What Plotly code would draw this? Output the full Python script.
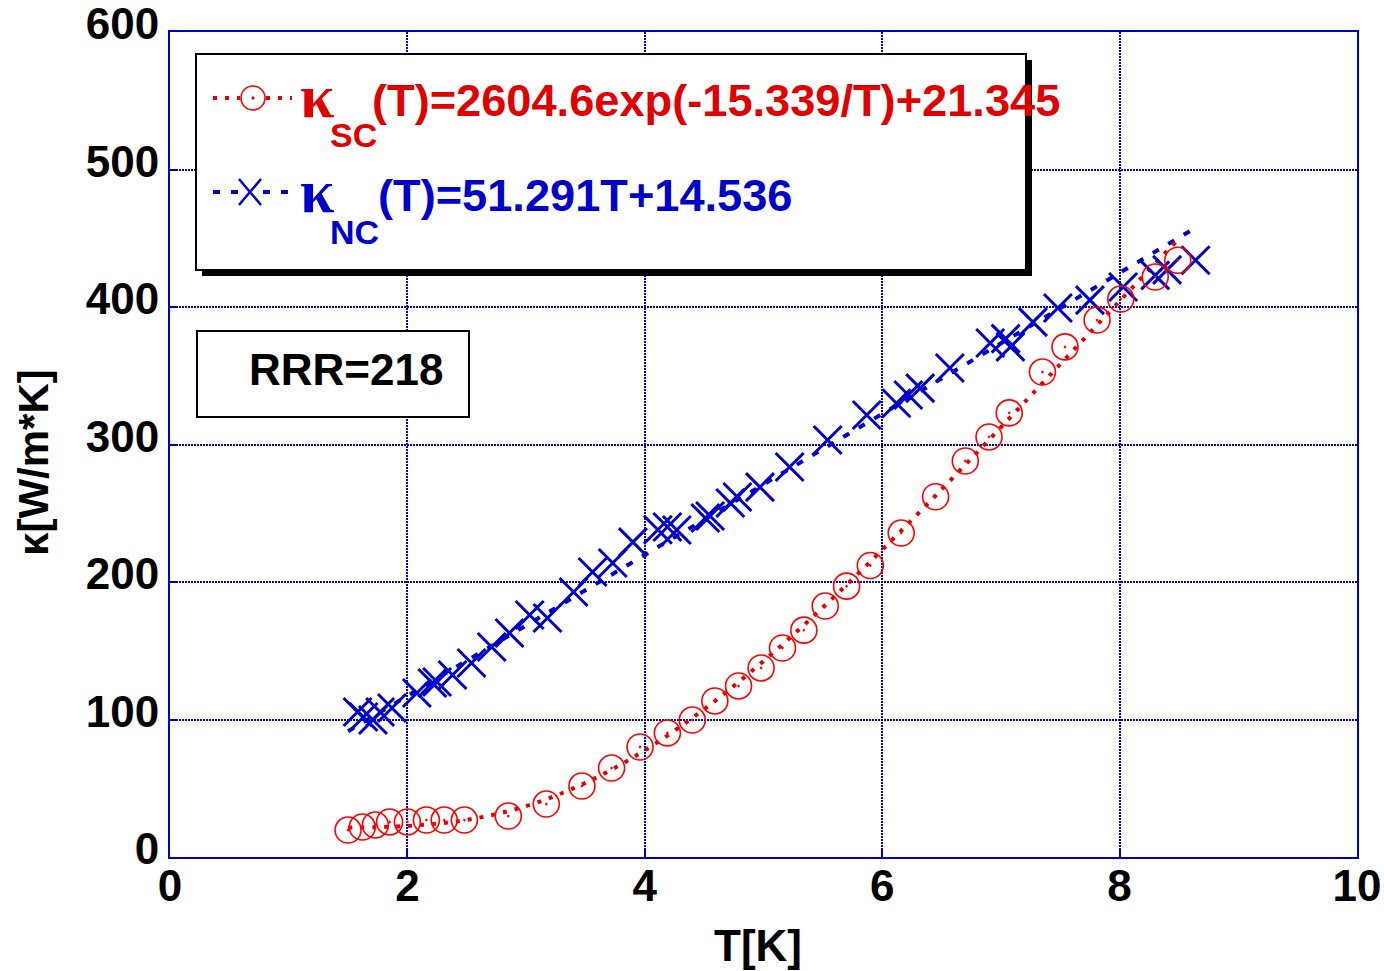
import plotly.graph_objects as go

# ---- data ----
sc_T = [1.50, 1.62, 1.73, 1.85, 2.00, 2.16, 2.31, 2.48, 2.85, 3.17, 3.47, 3.72, 3.96, 4.19,
        4.40, 4.59, 4.79, 4.98, 5.16, 5.34, 5.52, 5.70, 5.90, 6.16, 6.45, 6.70, 6.90, 7.07,
        7.35, 7.54, 7.81, 8.01, 8.30, 8.49]
sc_k = [19.6, 21.8, 23.3, 25.5, 25.5, 26.9, 26.9, 26.9, 29.8, 38.5, 51.6, 64.7, 80.0, 90.2,
        99.6, 113.5, 124.4, 137.5, 152.0, 165.0, 182.5, 197.0, 212.0, 235.6, 262.0, 288.0,
        305.5, 323.0, 352.7, 371.0, 390.5, 405.8, 421.8, 434.0]

nc_T = [1.58, 1.63, 1.71, 1.77, 1.87, 2.08, 2.21, 2.25, 2.38, 2.54, 2.71, 2.86, 3.03, 3.18,
        3.40, 3.56, 3.73, 3.90, 4.11, 4.19, 4.27, 4.51, 4.55, 4.72, 4.78, 4.97, 5.22, 5.54,
        5.87, 6.12, 6.22, 6.32, 6.57, 6.91, 7.04, 7.08, 7.27, 7.48, 7.75, 8.03, 8.30, 8.40, 8.64]
nc_k = [105.5, 101.8, 99.6, 105.5, 108.4, 119.3, 126.5, 127.3, 132.4, 141.1, 152.7, 162.9,
        176.0, 173.8, 192.7, 207.3, 213.8, 229.0, 238.0, 240.0, 237.8, 246.5, 248.0, 257.5,
        261.8, 269.0, 283.6, 303.3, 321.5, 330.0, 336.0, 341.0, 355.6, 373.8, 377.0, 371.0,
        389.0, 399.3, 405.0, 414.5, 423.0, 427.0, 434.0]

# fitted curves as they appear in the picture
sc_fit_T = [1.5, 2.0, 2.5, 3.0, 3.5, 4.0, 4.5, 5.0, 5.5, 6.0, 6.5, 7.0, 7.5, 8.0, 8.5]
sc_fit_k = [21.4, 22.6, 27.0, 37.0, 53.9, 77.6, 107.5, 142.5, 181.5, 223.4, 267.3, 312.5,
            358.4, 404.3, 449.8]
nc_fit_T = [1.5, 8.6]
nc_fit_k = [91.5, 455.6]

x_ticks = [0, 2, 4, 6, 8, 10]
y_ticks = [0, 100, 200, 300, 400, 500, 600]

sc_label = "(T)=2604.6exp(-15.339/T)+21.345"
nc_label = "(T)=51.291T+14.536"
rrr_label = "RRR=218"

BLUE = "#0000cc"
RED = "#ff0000"
RED_T = "#e00000"
FONT = "Liberation Sans, Arial, sans-serif"
SERIF = "Liberation Serif, Times New Roman, serif"

# plot area in pixels
L, R, T, B = 170, 1357, 32, 857
W, H = 1384, 971


def px(x):
    return (x - L) / (R - L)


def py(y):
    return (B - y) / (B - T)


fig = go.Figure()

fig.add_trace(go.Scatter(x=nc_fit_T, y=nc_fit_k, mode="lines",
                         line=dict(color=BLUE, width=4, dash="7px,11px"), showlegend=False))
fig.add_trace(go.Scatter(x=sc_fit_T, y=sc_fit_k, mode="lines", line_shape="spline",
                         line=dict(color=RED_T, width=4, dash="4px,8px"), showlegend=False))
fig.add_trace(go.Scatter(x=nc_T, y=nc_k, mode="markers",
                         marker=dict(symbol="x-thin-open", size=28, color=BLUE,
                                     line=dict(color=BLUE, width=3)),
                         showlegend=False))
fig.add_trace(go.Scatter(x=sc_T, y=sc_k, mode="markers",
                         marker=dict(symbol="circle-open-dot", size=26, color=RED,
                                     line=dict(color=RED, width=1.6)),
                         showlegend=False))

shapes = []
# legend box with shadow
shapes.append(dict(type="rect", xref="paper", yref="paper", x0=px(202), x1=px(1032),
                   y0=py(276), y1=py(60), fillcolor="black", line=dict(width=0), layer="above"))
shapes.append(dict(type="rect", xref="paper", yref="paper", x0=px(196), x1=px(1026),
                   y0=py(270), y1=py(54), fillcolor="white", line=dict(color="black", width=2),
                   layer="above"))
# legend samples
for (a, b) in [(213, 240), (266, 292)]:
    shapes.append(dict(type="line", xref="paper", yref="paper", x0=px(a), x1=px(b),
                       y0=py(98), y1=py(98), line=dict(color=RED_T, width=4, dash="4px,8px"),
                       layer="above"))
for (a, b) in [(213, 238), (263, 292)]:
    shapes.append(dict(type="line", xref="paper", yref="paper", x0=px(a), x1=px(b),
                       y0=py(192), y1=py(192), line=dict(color=BLUE, width=4, dash="7px,11px"),
                       layer="above"))
shapes.append(dict(type="circle", xref="paper", yref="paper", xsizemode="pixel",
                   ysizemode="pixel", xanchor=px(253), yanchor=py(98), x0=-12, x1=12,
                   y0=-12, y1=12, line=dict(color=RED, width=1.6), layer="above"))
shapes.append(dict(type="circle", xref="paper", yref="paper", xsizemode="pixel",
                   ysizemode="pixel", xanchor=px(253), yanchor=py(98), x0=-1.2, x1=1.2,
                   y0=-1.2, y1=1.2, fillcolor=RED, line=dict(color=RED, width=1), layer="above"))
for (dx, dy) in [(11, 13), (11, -13)]:
    shapes.append(dict(type="line", xref="paper", yref="paper", xsizemode="pixel",
                       ysizemode="pixel", xanchor=px(250), yanchor=py(192), x0=-dx, x1=dx,
                       y0=-dy, y1=dy, line=dict(color=BLUE, width=2.5), layer="above"))
# RRR box
shapes.append(dict(type="rect", xref="paper", yref="paper", x0=px(197), x1=px(469),
                   y0=py(417), y1=py(331), fillcolor="white", line=dict(color="black", width=2),
                   layer="above"))

ann = []


def text(s, x, y, size, color, xanchor="left", angle=0, family=FONT, weight="bold"):
    ann.append(dict(text=s, xref="paper", yref="paper", x=px(x), y=py(y), xanchor=xanchor,
                    yanchor="middle", showarrow=False, textangle=angle,
                    font=dict(family=family, size=size, color=color, weight=weight)))


text("κ", 298, 96, 62, RED_T, family=SERIF)
text("SC", 328, 135, 34, RED_T)
text(sc_label, 370, 101, 45.2, RED_T)
text("κ", 298, 191, 62, BLUE, family=SERIF)
text("NC", 328, 232, 34, BLUE)
text(nc_label, 376, 196, 45.2, BLUE)
text(rrr_label, 346, 369, 44, "black", xanchor="center")
text("T[K]", 758, 945, 44, "black", xanchor="center")
text("κ[W/m*K]", 33, 463, 42, "black", xanchor="center", angle=-90)

axis_common = dict(showgrid=True, gridcolor=BLUE, gridwidth=2, griddash="2px,1px",
                   showline=True, linecolor=BLUE, linewidth=2, mirror=True,
                   ticks="inside", ticklen=8, tickcolor=BLUE, tickwidth=2, zeroline=False,
                   automargin=False, ticklabeloverflow="allow",
                   tickfont=dict(family=FONT, size=44, color="black", weight="bold"))

fig.update_layout(
    width=W, height=H,
    margin=dict(l=L, r=W - R, t=T, b=H - B, pad=0, autoexpand=False),
    paper_bgcolor="white", plot_bgcolor="white",
    xaxis=dict(range=[0, 10], tickvals=x_ticks, ticktext=[str(v) for v in x_ticks],
               ticklabelstandoff=-11, **axis_common),
    yaxis=dict(range=[0, 600], tickvals=y_ticks, ticktext=[str(v) for v in y_ticks],
               ticklabelstandoff=0, ticklabelshift=-8, **axis_common),
    shapes=shapes, annotations=ann, showlegend=False,
)

fig.write_html("out.html")
